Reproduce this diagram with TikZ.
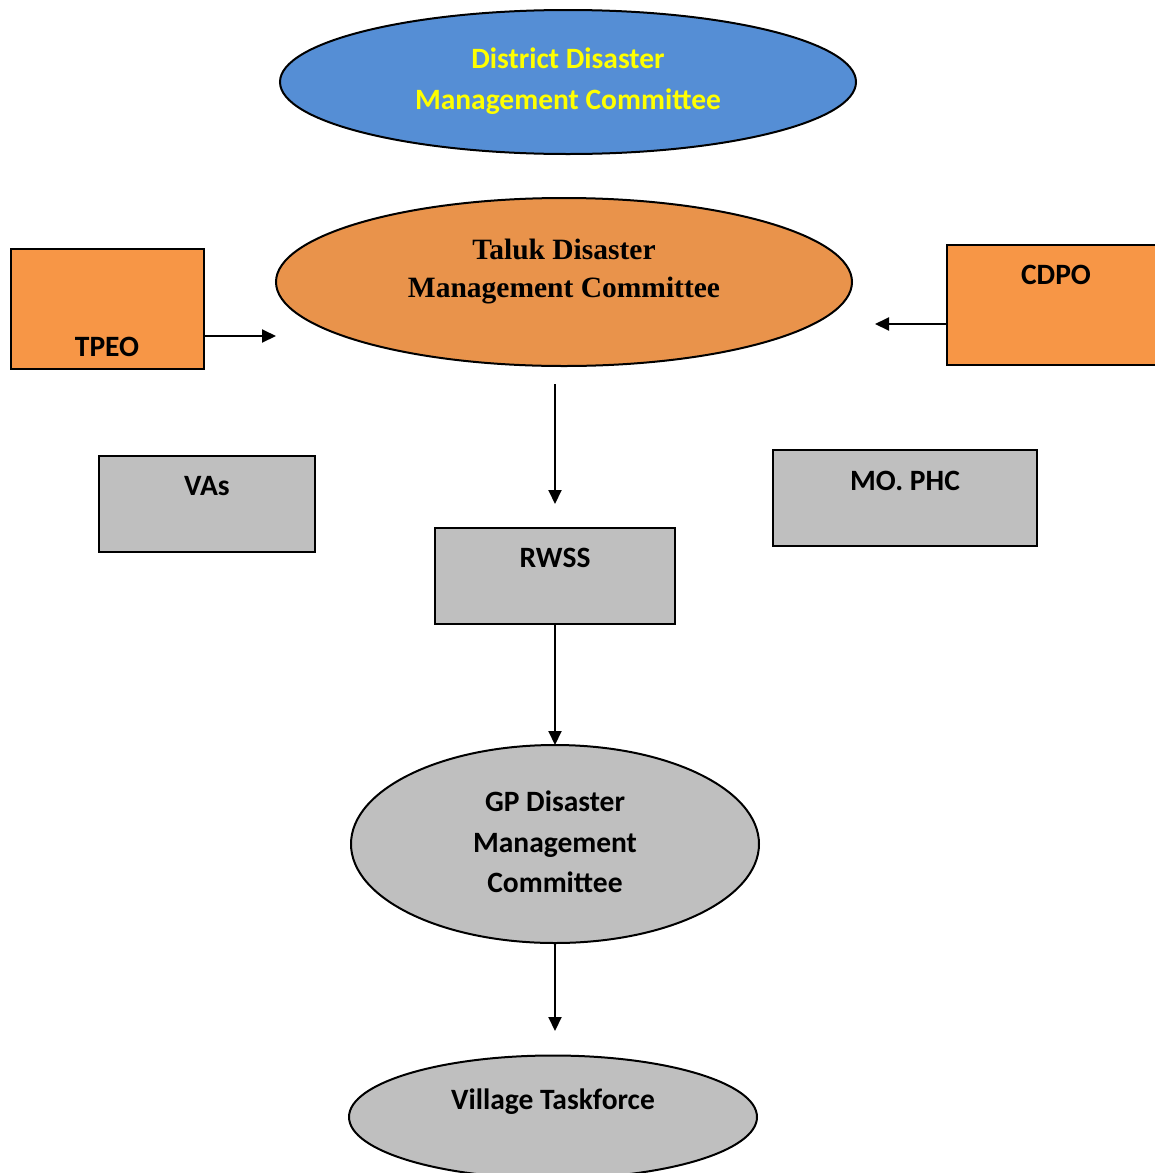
\documentclass[tikz,border=0pt]{standalone}
\usepackage{fontspec}
\setmainfont{Carlito}
\newfontfamily\serifbold{Liberation Serif}
\usetikzlibrary{shapes.geometric,arrows.meta}
\definecolor{ddblue}{HTML}{558ED5}
\definecolor{tlorange}{HTML}{E9934B}
\definecolor{boxorange}{HTML}{F79646}
\definecolor{boxgray}{HTML}{BFBFBF}
\definecolor{txtyellow}{HTML}{FFFF00}
\begin{document}
\begin{tikzpicture}[x=1pt,y=-1pt,
  every node/.style={font=\fontsize{29.5}{41}\selectfont\bfseries},
  oval/.style={draw=black,line width=2pt,ellipse,inner sep=0pt,outer sep=0pt},
  box/.style={draw=black,line width=2pt,rectangle,inner sep=0pt,outer sep=0pt,anchor=north west},
  conn/.style={line width=2pt,-{Triangle[length=14pt,width=13pt]}},
  lbl/.style={align=center,inner sep=0pt}]
\useasboundingbox (0,0) rectangle (1155,1173);
\begin{scope}
\clip (0,0) rectangle (1155,1173);
% ellipses
\node[oval,fill=ddblue,minimum width=576pt,minimum height=144pt] (district) at (568,82) {};
\node[lbl,text=txtyellow] (districtT) at (568,81) {District Disaster\\Management Committee};
\node[oval,fill=tlorange,minimum width=576pt,minimum height=168pt] (taluk) at (564,282) {};
\node[lbl,font=\fontsize{29.5}{38}\selectfont\serifbold\bfseries] (talukT) at (564,271.5) {Taluk Disaster\\Management Committee};
\node[oval,fill=boxgray,minimum width=408pt,minimum height=198pt] (gp) at (555,844) {};
\node[lbl,font=\fontsize{29.5}{40.5}\selectfont\bfseries] (gpT) at (555,842) {GP Disaster\\Management\\Committee};
\node[oval,fill=boxgray,minimum width=408pt,minimum height=123pt] (village) at (553,1117) {};
\node[lbl] (villageT) at (553,1102) {Village Taskforce};
% boxes
\node[box,fill=boxorange,minimum width=193pt,minimum height=120pt] (tpeo) at (11,249) {};
\node[lbl] (tpeoT) at (107,347) {TPEO};
\node[box,fill=boxorange,minimum width=223pt,minimum height=120pt] (cdpo) at (947,245) {};
\node[lbl] (cdpoT) at (1056,275) {CDPO};
\node[box,fill=boxgray,minimum width=216pt,minimum height=96pt] (vas) at (99,456) {};
\node[lbl] (vasT) at (207,486) {VAs};
\node[box,fill=boxgray,minimum width=264pt,minimum height=96pt] (mophc) at (773,450) {};
\node[lbl] (mophcT) at (905,481) {MO. PHC};
\node[box,fill=boxgray,minimum width=240pt,minimum height=96pt] (rwss) at (435,528) {};
\node[lbl] (rwssT) at (555,558) {RWSS};
% free connector ends
\coordinate (tpeoS) at (204,336);
\coordinate (tpeoE) at (276,336);
\coordinate (cdpoS) at (947,324);
\coordinate (cdpoE) at (875,324);
\coordinate (talukS) at (555,384);
\coordinate (talukE) at (555,504);
\coordinate (gpE) at (555,1031);
% connectors
\draw[conn] (tpeoS) -- (tpeoE);
\draw[conn] (cdpoS) -- (cdpoE);
\draw[conn] (talukS) -- (talukE);
\draw[conn] (rwss.south) -- (gp.north);
\draw[conn] (gp.south) -- (gpE);
\end{scope}
\end{tikzpicture}
\end{document}
